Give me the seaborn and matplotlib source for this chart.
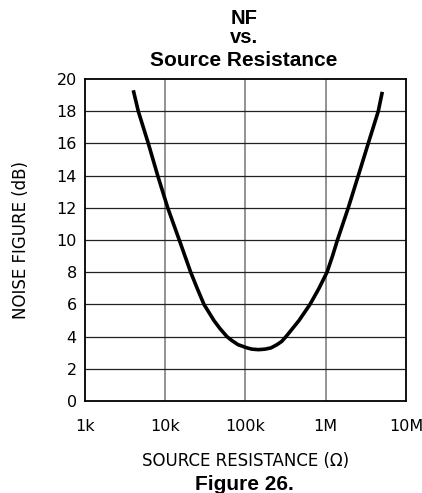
import pandas as pd
import seaborn as sns
import matplotlib.pyplot as plt
from matplotlib.ticker import FixedLocator, NullLocator

# NF curve (source resistance in ohms, NF in dB)
resistance = [4000, 4613, 6150, 8054, 10740, 14960, 17620, 20750, 25000,
              30400, 40450, 48100, 58750, 67900, 80700, 104500, 120600,
              145300, 175000, 208000, 247000, 282500, 319800, 385600,
              464500, 636800, 824700, 1038000, 1214000, 1400000, 1910000,
              2547000, 3388000, 4519000, 5070000]
noise_figure = [19.3, 18.0, 16.0, 14.0, 12.0, 10.0, 9.0, 8.0, 7.0,
                6.0, 5.0, 4.5, 4.0, 3.75, 3.5, 3.3, 3.22,
                3.19, 3.22, 3.3, 3.5, 3.7, 4.0, 4.5,
                5.0, 6.0, 7.0, 8.0, 9.0, 10.0, 12.0,
                14.0, 16.0, 18.0, 19.2]

x_ticks = [1e3, 1e4, 1e5, 1e6, 1e7]
x_labels = ["1k", "10k", "100k", "1M", "10M"]
y_ticks = list(range(0, 21, 2))

df = pd.DataFrame({"rs": resistance, "nf": noise_figure})

sns.set_style("white")
plt.rcParams['font.family'] = ['DejaVu Sans']
plt.rcParams['text.color'] = 'black'
plt.rcParams['axes.labelcolor'] = 'black'

fig = plt.figure(figsize=(4.22, 4.93), dpi=100)
ax = fig.add_axes([0.2014, 0.1866, 0.7606, 0.6532])

ax.set_xscale("log")
sns.lineplot(data=df, x="rs", y="nf", ax=ax, color="black", linewidth=2.6,
             sort=False, estimator=None)
ax.lines[0].set_solid_joinstyle("round")
ax.lines[0].set_solid_capstyle("butt")

ax.set_xlim(1e3, 1e7)
ax.set_ylim(0, 20)
ax.xaxis.set_major_locator(FixedLocator(x_ticks))
ax.xaxis.set_minor_locator(NullLocator())
ax.set_xticklabels(x_labels)
ax.set_yticks(y_ticks)

# grid: grey verticals, dark horizontals
for xv in x_ticks[1:-1]:
    ax.axvline(xv, color="#8a8a8a", linewidth=1.3, zorder=0)
for yv in y_ticks[1:-1]:
    ax.axhline(yv, color="#202020", linewidth=0.9, zorder=0)

for s in ax.spines.values():
    s.set_color("black")
    s.set_linewidth(1.3)

ax.tick_params(axis="both", length=0, labelsize=11.5, colors="black")
ax.tick_params(axis="x", pad=13)
ax.tick_params(axis="y", pad=6)
for lab in ax.get_xticklabels() + ax.get_yticklabels():
    lab.set_family("DejaVu Sans")

ax.set_xlabel("SOURCE RESISTANCE (Ω)", fontsize=12, labelpad=13,
              family="DejaVu Sans")
ax.set_ylabel("NOISE FIGURE (dB)", fontsize=12, labelpad=19,
              family="DejaVu Sans")

bold = dict(ha="center", va="baseline", fontweight="bold",
            family="Liberation Sans")
fig.text(0.578, 1 - 24 / 493, "NF", fontsize=14.5, **bold)
fig.text(0.578, 1 - 43 / 493, "vs.", fontsize=14.5, **bold)
fig.text(0.578, 1 - 66.5 / 493, "Source Resistance", fontsize=15, **bold)
fig.text(0.578, 1 - 489.5 / 493, "Figure 26.", fontsize=15, **bold)

fig.savefig("out.png", dpi=100)
